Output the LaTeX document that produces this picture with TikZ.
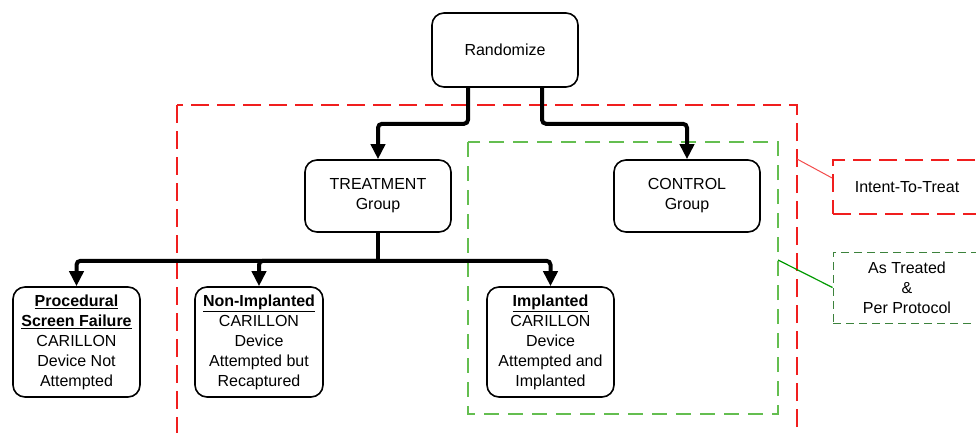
\documentclass[tikz,border=0pt]{standalone}
\usepackage{fontspec}
\setmainfont{Liberation Sans}
\usetikzlibrary{arrows.meta}
\definecolor{ittred}{RGB}{240,30,30}
\definecolor{atgreen}{RGB}{100,190,80}
\definecolor{ppgreen}{RGB}{60,130,60}
\tikzset{
  box/.style={draw, line width=1.6pt, rounded corners=12pt, align=center,
    font=\fontsize{16}{20}\selectfont},
  flow/.style={line width=4pt, rounded corners=4pt, -{Triangle[length=15pt, width=14pt]}},
  itt/.style={draw=ittred, line width=1.8pt, dash pattern=on 18pt off 8pt},
  asat/.style={draw=atgreen, line width=1.4pt, dash pattern=on 15pt off 9pt},
}
\newcommand{\hd}[1]{\underline{\textbf{#1}}}
\begin{document}
\begin{tikzpicture}[x=1pt, y=-1pt]
  \useasboundingbox (0,0) rectangle (976,432);

  % analysis sets
  \draw[itt] (177,105) rectangle (797,450);
  \draw[asat] (468,142) rectangle (778,414);

  % flow boxes
  \node[box, minimum width=146pt, minimum height=74pt] (rand) at (505,50) {Randomize};
  \node[box, minimum width=146pt, minimum height=72pt] (treat) at (378,196) {TREATMENT\\Group};
  \node[box, minimum width=146pt, minimum height=72pt] (ctrl) at (687,196) {CONTROL\\Group};
  \node[box, minimum width=127pt, minimum height=110pt, inner sep=1pt] (fail) at (76.5,342) {\hd{Procedural}\\\hd{Screen Failure}\\CARILLON\\Device Not\\Attempted};
  \node[box, minimum width=128pt, minimum height=110pt, inner sep=1pt] (nonimp) at (259,342) {\hd{Non-Implanted}\\CARILLON\\Device\\Attempted but\\Recaptured};
  \node[box, minimum width=127pt, minimum height=110pt, inner sep=1pt] (imp) at (550.5,342) {\hd{Implanted}\\CARILLON\\Device\\Attempted and\\Implanted};

  \draw[flow] ([xshift=-37pt]rand.south) -- ++(0,36) -| (treat.north);
  \draw[flow] ([xshift=37pt]rand.south) -- ++(0,36) -| (ctrl.north);
  \draw[line width=4pt] (treat.south) -- ++(0,28) coordinate (split);
  \draw[flow] (split) -| (fail.north);
  \draw[flow] (split) -| (nonimp.north);
  \draw[flow] (split) -| (imp.north);

  % legend
  \node[itt, minimum width=148pt, minimum height=54pt, font=\fontsize{16}{20}\selectfont] (ittlab) at (907,187) {Intent-To-Treat};
  \node[draw=ppgreen, line width=1pt, dash pattern=on 8pt off 5pt, align=center,
    minimum width=148pt, minimum height=71pt, font=\fontsize{16}{20}\selectfont] (pplab) at (907,287.5) {As Treated\\\&\\Per Protocol};
  \draw[ittred!80, line width=1pt] (797,159) -- (ittlab.west |- 0,178);
  \draw[green!60!black, line width=1.2pt] (778,260) -- (pplab.west);
\end{tikzpicture}
\end{document}
